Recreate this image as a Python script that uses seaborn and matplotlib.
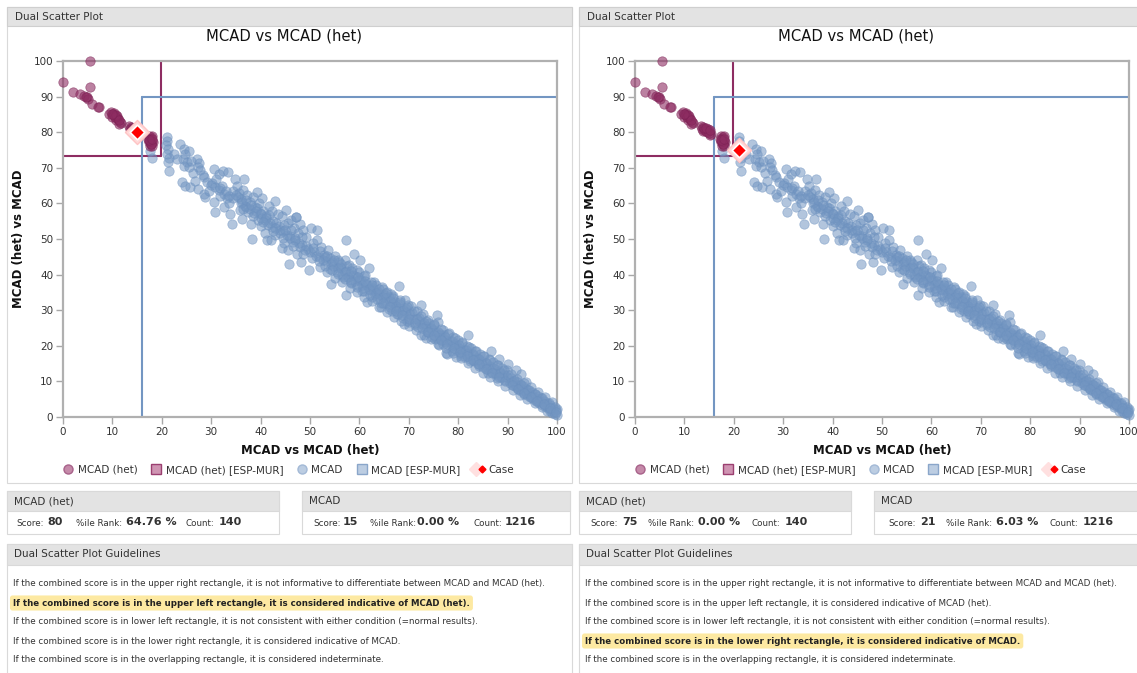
import matplotlib
matplotlib.use("Agg")
import matplotlib.pyplot as plt
import pandas as pd
import seaborn as sns
from matplotlib.patches import Rectangle
from matplotlib.lines import Line2D
from matplotlib.legend_handler import HandlerTuple

sns.set_theme(style="ticks")
plt.rcParams["font.family"] = ["DejaVu Sans"]

# ---------------------------------------------------------------- data
# MCAD (het) reference population: (MCAD score, MCAD (het) score)
het_points = [
    (0.0, 94.0), (5.5, 100.0), (5.5, 92.8), (2.1, 91.4), (3.5, 90.7), (4.3, 90.3),
    (4.8, 90.0), (5.0, 89.3), (4.6, 89.8), (5.8, 88.0), (7.2, 87.2), (7.0, 87.0),
    (9.4, 85.2), (9.8, 85.6), (10.1, 85.0), (10.4, 85.4), (10.6, 84.6), (10.0, 84.4),
    (10.9, 84.0), (11.2, 83.6), (10.7, 83.3), (11.5, 83.0), (11.8, 82.6), (11.3, 82.4),
    (10.3, 84.8), (11.0, 84.6), (10.5, 84.2), (10.8, 84.8), (11.4, 83.3), (9.9, 85.1),
    (13.3, 81.8), (13.8, 81.4), (14.2, 81.0), (14.6, 80.6), (15.0, 80.2), (15.4, 79.6),
    (13.6, 81.0), (14.0, 80.5), (14.5, 80.0), (15.2, 79.2), (14.8, 80.9), (13.8, 80.2),
    (14.3, 80.3), (14.9, 79.8), (13.9, 81.1), (14.4, 81.3), (15.1, 80.6),
    (17.5, 79.0), (17.8, 78.6), (18.1, 78.8), (17.6, 78.0), (18.0, 77.6), (17.4, 77.2),
    (17.9, 76.8), (17.6, 76.2), (18.2, 77.2), (17.3, 78.2), (18.0, 76.0), (17.7, 77.6),
    (17.8, 76.6), (17.5, 77.8), (18.1, 78.2),
]

# MCAD reference population: (MCAD score, MCAD (het) score)
mcad_upper = [
    (17.6, 74.6), (18.0, 72.7),
    (21.0, 78.6), (21.1, 77.4), (20.9, 76.3), (21.3, 75.2), (21.0, 74.0), (21.4, 72.8),
    (21.2, 71.6), (21.5, 69.2), (23.7, 76.7), (24.4, 75.3), (24.6, 73.9), (24.2, 72.4),
    (24.5, 70.5), (25.0, 71.6), (25.6, 74.6), (27.1, 72.5), (27.6, 71.3), (27.8, 69.3),
    (28.4, 67.9), (27.3, 70.2), (26.3, 68.5), (24.1, 65.9), (24.7, 65.0), (25.8, 64.5),
    (26.8, 66.4), (27.4, 64.1), (28.5, 62.7), (28.8, 61.7), (29.6, 63.5), (30.5, 69.7),
    (31.6, 68.3), (32.4, 69.0), (33.5, 68.7), (34.9, 66.9), (36.6, 66.9), (30.2, 65.8),
    (30.8, 64.6), (31.5, 63.8), (32.1, 65.0), (32.6, 62.6), (33.2, 61.5), (31.7, 62.0),
    (30.5, 60.3), (30.8, 57.5), (32.5, 58.9), (33.9, 57.1), (34.2, 54.3), (33.6, 60.2),
    (34.4, 63.6), (35.2, 64.8),
    (22.5, 73.8), (23.0, 72.5), (25.5, 70.2), (26.0, 71.8), (28.6, 67.5), (29.2, 66.0),
    (29.9, 65.2), (31.0, 66.8), (31.8, 64.2), (32.9, 63.4), (33.7, 62.0), (34.5, 61.4),
]
mcad_middle = [
    (35.6, 62.8), (36.0, 61.2), (36.5, 63.9), (37.2, 62.3), (37.8, 60.5), (38.4, 61.7),
    (36.9, 59.3), (35.8, 58.2), (37.5, 57.6), (38.9, 58.9), (39.6, 60.1), (40.2, 61.4),
    (39.2, 63.2), (38.3, 50.1), (40.5, 58.0), (41.0, 56.6), (41.8, 59.3), (42.3, 57.8),
    (42.9, 60.8), (41.3, 49.6), (40.0, 53.6), (39.4, 55.2), (42.6, 55.1), (43.5, 56.9),
    (44.4, 56.6), (45.1, 58.2), (43.8, 53.7), (44.6, 52.2), (45.5, 54.6), (46.2, 55.4),
    (47.1, 56.1), (46.8, 53.0), (47.5, 51.6), (45.8, 50.8), (44.8, 48.9), (44.3, 47.5),
    (45.6, 46.8), (46.5, 49.2), (48.0, 54.3), (48.6, 52.4), (49.2, 50.6), (48.3, 48.4),
    (49.5, 47.2), (47.4, 45.8), (45.7, 43.0), (48.1, 43.5), (49.8, 41.4), (50.3, 53.2),
    (50.6, 49.0), (51.5, 52.4), (51.5, 49.6), (50.9, 46.3), (51.8, 45.0), (52.3, 47.7),
    (47.1, 56.3), (39.8, 57.4), (41.5, 54.0), (43.0, 51.0), (36.2, 55.6), (38.0, 54.2),
    (40.8, 51.8), (42.2, 49.6),
    (35.4, 61.9), (36.3, 60.4), (37.0, 59.0), (37.9, 58.4), (38.6, 57.2), (39.3, 58.6),
    (40.1, 56.0), (40.9, 55.2), (41.6, 56.8), (42.4, 53.4), (43.1, 54.6), (43.9, 52.4),
    (44.7, 53.8), (45.4, 51.0), (46.1, 52.6), (46.9, 50.2), (47.7, 49.0), (48.4, 50.6),
    (49.1, 48.0), (49.9, 46.4), (50.6, 47.6), (51.3, 45.2), (52.0, 46.6),
    (35.0, 62.4), (36.0, 60.0), (37.0, 61.0), (38.0, 59.6), (39.0, 57.8), (40.0, 57.0),
    (41.0, 55.8), (42.0, 54.6), (43.0, 53.0), (44.0, 51.8), (45.0, 52.6), (46.0, 50.4),
    (47.0, 49.6), (48.0, 47.8), (49.0, 46.8), (36.5, 58.3), (38.5, 56.6), (40.5, 54.8),
    (42.5, 52.2), (44.5, 50.2), (46.5, 48.0), (48.5, 45.8),
    (52.8, 45.6), (53.2, 43.8), (53.6, 46.9), (54.1, 44.6), (54.2, 37.3), (54.7, 42.4),
    (55.0, 45.2), (55.4, 40.8), (55.8, 43.6), (56.2, 41.9), (56.6, 39.4), (57.0, 44.1),
    (57.2, 49.6), (57.2, 34.2), (57.5, 42.5), (57.9, 40.3), (58.3, 38.6), (58.6, 41.8),
    (58.9, 45.9), (59.2, 39.6), (59.5, 37.2), (59.9, 40.8), (60.2, 44.0), (60.4, 38.4),
    (60.7, 36.1), (61.0, 39.5), (61.3, 37.3), (61.6, 32.3), (61.9, 41.9), (62.1, 35.6),
    (62.4, 38.0), (62.8, 36.2), (63.1, 34.4), (63.4, 37.1), (63.8, 35.0), (64.1, 33.2),
    (64.3, 30.9), (64.6, 36.4), (64.9, 34.2), (65.2, 32.1), (65.5, 35.0), (65.9, 33.6),
    (66.2, 31.4), (66.6, 29.8), (66.9, 34.1), (67.2, 32.4), (67.5, 30.6), (67.8, 28.9),
    (68.0, 36.7), (68.3, 31.8), (68.6, 29.9), (68.9, 27.7), (69.2, 32.8), (69.5, 30.4),
    (69.8, 28.5), (70.1, 26.6), (70.4, 31.2), (70.7, 29.2), (71.0, 27.4), (71.3, 25.8),
    (53.0, 45.0), (54.5, 43.5), (56.0, 42.2), (57.3, 41.0), (58.8, 39.8), (60.0, 38.5),
    (61.5, 37.0), (62.7, 35.8), (64.0, 34.6), (65.4, 33.3), (66.8, 31.9), (68.1, 30.6),
    (69.4, 29.4), (55.6, 44.0), (57.8, 42.6), (59.6, 41.2), (61.2, 40.0), (63.0, 37.9),
    (64.7, 35.9), (66.4, 34.6), (68.2, 33.0), (69.9, 31.4), (54.0, 41.6), (56.4, 40.0),
    (58.2, 37.6), (60.6, 35.4), (62.6, 33.6), (64.4, 32.0), (66.0, 30.4), (67.6, 29.0),
    (69.6, 27.0), (69.0, 26.2),
    (52.7, 44.1), (53.4, 45.3), (54.2, 43.0), (54.9, 44.2), (55.6, 41.8), (56.3, 42.9),
    (57.0, 40.6), (57.7, 39.2), (58.4, 40.9), (59.1, 38.1), (59.8, 39.3), (60.5, 37.0),
    (61.2, 38.2), (61.9, 36.0), (62.6, 37.0), (63.3, 34.8), (64.0, 35.9), (64.7, 33.6),
    (65.4, 34.7), (66.1, 32.5), (66.8, 33.4), (67.5, 31.3), (68.2, 32.2), (68.9, 30.1),
    (69.6, 31.0), (70.3, 28.8), (71.0, 29.9),
    (52.0, 42.0), (53.5, 40.6), (55.0, 39.0), (56.5, 37.8), (58.0, 36.2), (59.5, 35.0),
    (61.0, 33.8), (62.5, 32.6), (64.0, 31.0), (65.5, 29.6), (67.0, 28.2), (68.5, 27.0),
    (70.0, 25.6),
    (50.5, 44.6), (51.8, 43.7), (53.1, 42.4), (54.4, 41.2), (55.7, 40.1), (57.0, 38.9),
    (58.3, 37.8), (59.6, 36.6), (60.9, 35.4), (62.2, 34.2), (63.5, 33.1), (64.8, 32.0),
    (66.1, 30.8), (67.4, 29.7), (68.7, 28.6), (70.0, 27.4),
]
mcad_lower = [
    (71.6, 29.8), (72.0, 27.8), (72.4, 23.0), (72.6, 26.2), (72.9, 28.8), (73.2, 25.4),
    (73.5, 27.1), (73.8, 23.9), (74.1, 26.5), (74.4, 24.8), (74.7, 22.6), (75.0, 25.9),
    (75.3, 24.0), (75.6, 22.3), (75.9, 26.8), (76.1, 20.2), (76.3, 23.4), (76.6, 21.8),
    (76.9, 24.5), (77.2, 22.9), (77.5, 21.0), (77.8, 17.8), (78.1, 23.6), (78.4, 21.4),
    (78.7, 19.9), (79.0, 22.5), (79.3, 20.6), (79.6, 18.8), (79.9, 21.7), (80.2, 19.4),
    (80.5, 17.6), (80.8, 20.8), (81.1, 18.9), (81.4, 16.9), (81.7, 20.0), (82.0, 18.1),
    (82.3, 16.2), (82.6, 19.3), (82.9, 17.4), (83.2, 15.6), (83.5, 18.6), (83.8, 16.6),
    (84.1, 14.9), (84.4, 17.8), (84.7, 15.8), (85.0, 14.1), (85.3, 17.0), (85.6, 15.2),
    (85.9, 13.4), (86.2, 16.2), (86.5, 14.4), (86.8, 12.7), (87.1, 15.5), (87.4, 13.6),
    (87.7, 12.0), (88.0, 14.7), (88.3, 12.9), (88.6, 11.2), (88.9, 13.9), (89.2, 12.1),
    (89.5, 10.5), (89.8, 13.2),
    (72.0, 26.9), (73.4, 25.6), (74.8, 24.3), (76.2, 22.9), (77.6, 21.6), (79.0, 20.3),
    (80.4, 19.0), (81.8, 17.7), (83.2, 16.4), (84.6, 15.1), (86.0, 13.8), (87.4, 12.5),
    (88.8, 11.3), (71.8, 25.2), (73.6, 23.8), (75.4, 22.0), (77.0, 20.6), (78.8, 18.6),
    (80.6, 17.2), (82.4, 15.6), (84.2, 14.2), (86.0, 12.4), (87.8, 11.0),
    (72.4, 31.4), (75.8, 28.6), (81.9, 23.0), (86.6, 18.6), (88.3, 16.4), (90.0, 15.0),
    (91.7, 13.2), (92.7, 12.2), (93.7, 9.9), (73.4, 22.1), (77.5, 18.0), (79.5, 16.8),
    (71.7, 27.6), (72.4, 28.5), (73.1, 26.4), (73.8, 27.2), (74.5, 25.1), (75.2, 26.0),
    (75.9, 23.9), (76.6, 24.8), (77.3, 22.6), (78.0, 23.4), (78.7, 21.3), (79.4, 22.2),
    (80.1, 20.1), (80.8, 21.0), (81.5, 18.8), (82.2, 19.7), (82.9, 17.6), (83.6, 18.4),
    (84.3, 16.3), (85.0, 17.2), (85.7, 15.1), (86.4, 15.9), (87.1, 13.8), (87.8, 14.6),
    (88.5, 12.5), (89.2, 13.3), (89.9, 11.2),
    (71.5, 24.4), (73.0, 23.0), (74.5, 21.8), (76.0, 20.6), (77.5, 19.4), (79.0, 18.0),
    (80.5, 16.6), (82.0, 15.2), (83.5, 13.8), (85.0, 12.5), (86.5, 11.3), (88.0, 10.0),
    (89.5, 8.8),
    (71.3, 26.3), (72.6, 25.1), (73.9, 24.0), (75.2, 22.9), (76.5, 21.7), (77.8, 20.6),
    (79.1, 19.4), (80.4, 18.3), (81.7, 17.1), (83.0, 16.0), (84.3, 14.8), (85.6, 13.6),
    (86.9, 12.5), (88.2, 11.3), (89.5, 10.2),
    (90.1, 11.8), (90.4, 9.6), (90.7, 11.0), (91.0, 8.9), (91.3, 10.3), (91.6, 8.4),
    (91.9, 9.8), (92.2, 7.8), (92.5, 9.2), (92.8, 7.2), (93.1, 8.6), (93.4, 6.6),
    (93.7, 8.0), (94.0, 6.1), (94.3, 7.5), (94.6, 5.6), (94.9, 6.9), (95.2, 5.0),
    (95.5, 6.4), (95.8, 4.5), (96.1, 5.8), (96.4, 4.0), (96.7, 5.2), (97.0, 3.5),
    (97.3, 4.6), (97.6, 3.0), (97.9, 4.0), (98.2, 2.5), (98.5, 3.3), (98.8, 1.9),
    (99.1, 2.6), (99.4, 1.3), (99.7, 2.0), (100.0, 0.6), (99.0, 1.0), (100.0, 2.2),
    (98.0, 1.6), (90.8, 9.9), (92.0, 8.8), (93.2, 7.6), (94.4, 6.5), (95.6, 5.3),
    (96.8, 4.2), (98.0, 3.0), (91.4, 9.2), (92.6, 8.1), (93.8, 7.0), (95.0, 5.9),
    (96.2, 4.8), (97.4, 3.7),
    (90.6, 12.0), (91.3, 10.1), (92.0, 10.8), (92.7, 8.9), (93.4, 9.6), (94.1, 7.7),
    (94.8, 8.3), (95.5, 6.4), (96.2, 7.0), (96.9, 5.2), (97.6, 5.7), (98.3, 3.9),
    (99.0, 4.3), (99.6, 2.9),
    (91.0, 7.5), (92.5, 6.2), (94.0, 5.0), (95.5, 3.9), (97.0, 2.8), (98.5, 1.8),
    (99.5, 0.9), (90.8, 9.0), (92.1, 7.9), (93.4, 6.8), (94.7, 5.7), (96.0, 4.6),
    (97.3, 3.6), (98.6, 2.5), (99.8, 1.4),
]

# cut-off rectangles: corner (MCAD score, MCAD (het) score)
het_cutoff = (19.8, 73.2)
mcad_cutoff = (16.0, 89.8)

# two cases
het_scores = [80, 75]
mcad_scores = [15, 21]
het_ranks = ["64.76 %", "0.00 %"]
mcad_ranks = ["0.00 %", "6.03 %"]
het_count = 140
mcad_count = 1216
highlighted_rule = [1, 3]

guidelines = [
    "If the combined score is in the upper right rectangle, it is not informative to differentiate between MCAD and MCAD (het).",
    "If the combined score is in the upper left rectangle, it is considered indicative of MCAD (het).",
    "If the combined score is in lower left rectangle, it is not consistent with either condition (=normal results).",
    "If the combined score is in the lower right rectangle, it is considered indicative of MCAD.",
    "If the combined score is in the overlapping rectangle, it is considered indeterminate.",
]
ticks = list(range(0, 101, 10))

het_df = pd.DataFrame(het_points, columns=["mcad", "het"])
mcad_df = pd.DataFrame(mcad_upper + mcad_middle + mcad_lower, columns=["mcad", "het"])

# ---------------------------------------------------------------- styling
HET = "#8e2d62"
MCAD = "#7396c2"
TXT = "#333333"
BAR = "#e3e3e3"
BORDER = "#d9d9d9"

W, H = 1137, 673
fig = plt.figure(figsize=(W / 100, H / 100), dpi=100)
fig.patch.set_facecolor("white")


def fx(x):
    return x / W


def fy(y):
    return 1 - y / H


def box(x0, y0, x1, y1, fc="none", ec="none", lw=0.8, z=0):
    fig.add_artist(Rectangle((fx(x0), fy(y1)), (x1 - x0) / W, (y1 - y0) / H,
                             transform=fig.transFigure, facecolor=fc,
                             edgecolor=ec, linewidth=lw, zorder=z))


def text(x, y, s, size=8, weight="normal", ha="left", color=TXT, **kw):
    return fig.text(fx(x), fy(y), s, fontsize=size, fontweight=weight, ha=ha,
                    va="center", color=color, **kw)


for i, off in enumerate([0, 572]):
    # panel frame and header bar
    box(7 + off, 7, 572 + off, 483, ec=BORDER)
    box(7 + off, 7, 572 + off, 26, fc=BAR, ec="#cfcfcf")
    text(15 + off, 17, "Dual Scatter Plot", size=7.5)
    text(284 + off, 36, "MCAD vs MCAD (het)", size=10.6, ha="center", color="#111111")

    ax = fig.add_axes([fx(63 + off), fy(417), 494 / W, 356 / H])
    sns.scatterplot(data=mcad_df, x="mcad", y="het", ax=ax, s=46, color=MCAD,
                    alpha=0.55, edgecolor="#6a8fbe", linewidth=0.5,
                    legend=False, clip_on=False, zorder=3)
    sns.scatterplot(data=het_df, x="mcad", y="het", ax=ax, s=46, color=HET,
                    alpha=0.6, edgecolor="#7a1f52", linewidth=0.5,
                    legend=False, clip_on=False, zorder=4)

    # cut-off rectangles
    ax.plot([het_cutoff[0], het_cutoff[0]], [het_cutoff[1], 100], color=HET, lw=1.5, zorder=2)
    ax.plot([0, het_cutoff[0]], [het_cutoff[1], het_cutoff[1]], color=HET, lw=1.5, zorder=2)
    ax.plot([mcad_cutoff[0], mcad_cutoff[0]], [0, mcad_cutoff[1]], color=MCAD, lw=1.5, zorder=2)
    ax.plot([mcad_cutoff[0], 100], [mcad_cutoff[1], mcad_cutoff[1]], color=MCAD, lw=1.5, zorder=2)

    # the case
    ax.scatter([mcad_scores[i]], [het_scores[i]], marker="D", s=150, color="#ffd9d9",
               edgecolor="#ffc4c4", linewidth=1, zorder=6, clip_on=False)
    ax.scatter([mcad_scores[i]], [het_scores[i]], marker="D", s=55, color="#ff0000",
               edgecolor="white", linewidth=1.2, zorder=7, clip_on=False)

    ax.set_xlim(0, 100)
    ax.set_ylim(0, 100)
    ax.set_xticks(ticks)
    ax.set_yticks(ticks)
    ax.tick_params(length=5, width=1, color="#a8a8a8", labelsize=7.5,
                   labelcolor=TXT, pad=2)
    for sp in ax.spines.values():
        sp.set_color("#b0b0b0")
        sp.set_linewidth(1.6)
    ax.set_xlabel("MCAD vs MCAD (het)", fontsize=8.5, fontweight="bold",
                  color="#111111", labelpad=5)
    ax.set_ylabel("MCAD (het) vs MCAD", fontsize=8.5, fontweight="bold",
                  color="#111111", labelpad=6)
    ax.set_facecolor("white")

    # legend
    circ = dict(marker="o", linestyle="", markersize=6.5)
    sq = dict(marker="s", linestyle="", markersize=6.5)
    handles = [
        Line2D([], [], markerfacecolor="#c58aa9", markeredgecolor="#a8628a", **circ),
        Line2D([], [], markerfacecolor="#cf94b2", markeredgecolor="#9b3f70", **sq),
        Line2D([], [], markerfacecolor="#bccde2", markeredgecolor="#a3b9d6", **circ),
        Line2D([], [], markerfacecolor="#bccde2", markeredgecolor="#8aa6ca", **sq),
        (Line2D([], [], marker="D", linestyle="", markersize=7, color="#ffe0e0"),
         Line2D([], [], marker="D", linestyle="", markersize=3.5, color="#ff0000")),
    ]
    labels = ["MCAD (het)", "MCAD (het) [ESP-MUR]", "MCAD", "MCAD [ESP-MUR]", "Case"]
    fig.legend(handles, labels, loc="center", bbox_to_anchor=(fx(288 + off), fy(470)),
               ncol=5, frameon=False, fontsize=7.5, handletextpad=0.3,
               columnspacing=1.2, handlelength=1.2,
               handler_map={tuple: HandlerTuple(ndivide=None, pad=0)},
               labelcolor=TXT)

    # score boxes
    for bx0, bx1, head in [(7, 279, "MCAD (het)"), (302, 570, "MCAD")]:
        box(bx0 + off, 491, bx1 + off, 534, fc="white", ec=BORDER)
        box(bx0 + off, 491, bx1 + off, 511, fc=BAR, ec=BORDER)
        text(bx0 + 7 + off, 501, head, size=7.5)

    het_pos = [(16, 47, 76, 126, 185, 219), (590, 622, 648, 698, 752, 785)][i]
    mcad_pos = [(313, 343, 370, 417, 473, 505), (888, 920, 946, 996, 1050, 1083)][i]
    for pos, score, rank, count in [(het_pos, het_scores[i], het_ranks[i], het_count),
                                     (mcad_pos, mcad_scores[i], mcad_ranks[i], mcad_count)]:
        text(pos[0], 523, "Score:", size=6.3)
        text(pos[1], 522, str(score), size=8, weight="bold")
        text(pos[2], 523, "%ile Rank:", size=6.3)
        text(pos[3], 522, rank, size=8, weight="bold")
        text(pos[4], 523, "Count:", size=6.3)
        text(pos[5], 522, str(count), size=8, weight="bold")

    # guidelines
    box(7 + off, 544, 572 + off, 680, fc="white", ec=BORDER)
    box(7 + off, 544, 572 + off, 565, fc=BAR, ec=BORDER)
    text(14 + off, 554, "Dual Scatter Plot Guidelines", size=7.5)
    for k, line in enumerate(guidelines):
        yy = 584 + 19 * k
        if k == highlighted_rule[i]:
            t = text(13 + off, yy, line, size=6.25, weight="bold", color="#222222")
            t.set_bbox(dict(boxstyle="round,pad=0.35,rounding_size=0.3",
                            facecolor="#fde9a2", edgecolor="none"))
        else:
            text(13 + off, yy, line, size=6.35)

fig.savefig("out.png", dpi=100, facecolor="white")
